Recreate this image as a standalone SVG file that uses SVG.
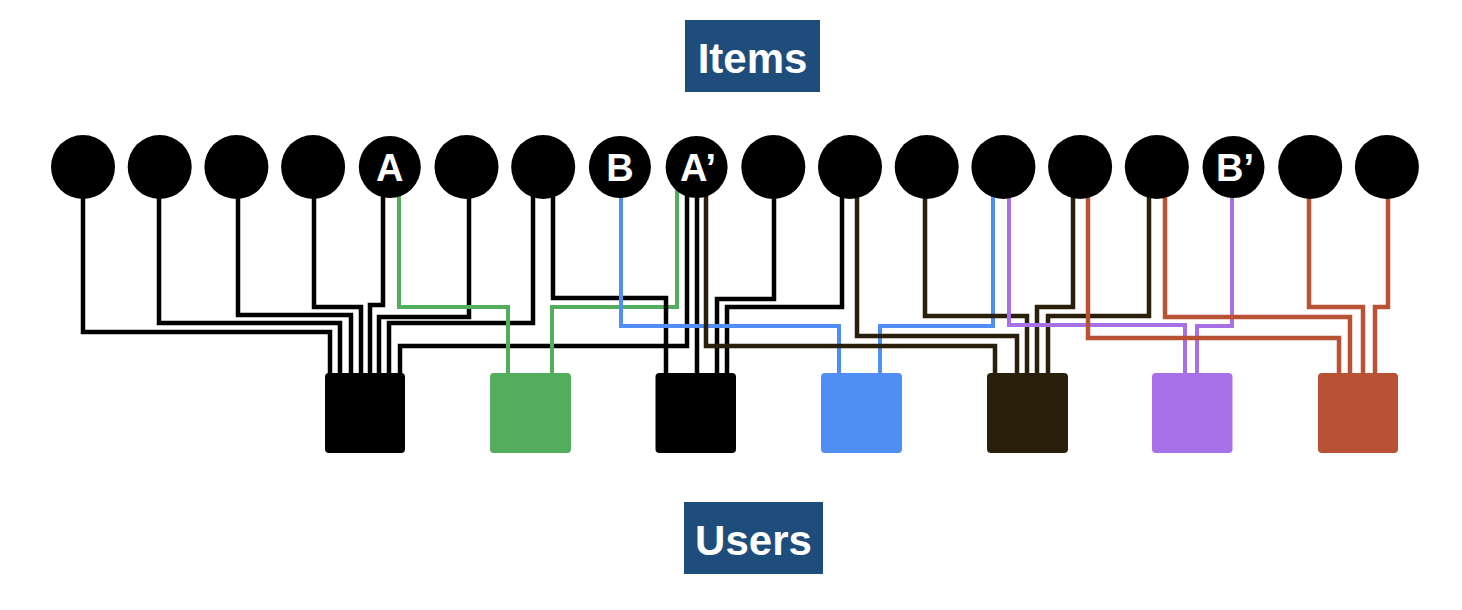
<svg xmlns="http://www.w3.org/2000/svg" width="1462" height="610" viewBox="0 0 1462 610">
<style>
.bg{fill:#ffffff}
.title{fill:#1F4D7B}
.tt{font-family:"Liberation Sans",Arial,sans-serif;font-weight:bold;font-size:42px;fill:#ffffff;text-anchor:middle}
.item{fill:#000000}
.lbl{font-family:"Liberation Sans",Arial,sans-serif;font-weight:bold;font-size:38px;fill:#ffffff;text-anchor:middle}
.w{fill:none;stroke-width:4.5;stroke-linejoin:miter;stroke-linecap:butt}
.k{stroke:#000000}
.g{stroke:#52AE5C;stroke-width:4}
.b{stroke:#4F8FF5;stroke-width:4}
.d{stroke:#2A1F0B}
.p{stroke:#A870E6;stroke-width:4}
.r{stroke:#B95134}
</style>
<rect class="bg" x="0" y="0" width="1462" height="610"/>

<g id="title-items">
<rect class="title" x="685" y="20" width="135" height="72"/>
<text class="tt" x="752.5" y="73">Items</text>
</g>
<g id="title-users">
<rect class="title" x="684" y="502" width="139" height="72"/>
<text class="tt" x="753.5" y="555">Users</text>
</g>

<g id="connectors">
<!-- user 1 (black) -->
<path class="w k" d="M83,190 V332 H330 V380"/>
<path class="w k" d="M159,190 V323 H340 V380"/>
<path class="w k" d="M238,190 V315 H351 V380"/>
<path class="w k" d="M314,190 V307 H361 V380"/>
<path class="w k" d="M383,190 V305 H370 V380"/>
<path class="w k" d="M469,190 V317 H379 V380"/>
<path class="w k" d="M533,190 V323 H389 V380"/>
<path class="w k" d="M687,190 V346 H400 V380"/>
<!-- user 2 (green) -->
<path class="w g" d="M399,190 V307 H508 V380"/>
<path class="w g" d="M677,190 V307 H552 V380"/>
<!-- user 3 (black) -->
<path class="w k" d="M553,190 V298 H666 V380"/>
<path class="w k" d="M697,190 V380"/>
<path class="w k" d="M774,190 V299 H717 V380"/>
<path class="w k" d="M842,190 V307 H727 V380"/>
<!-- user 4 (blue) -->
<path class="w b" d="M621,190 V326 H839 V380"/>
<path class="w b" d="M993,190 V326 H880 V380"/>
<!-- user 5 (dark brown) -->
<path class="w d" d="M706,190 V346 H995 V380"/>
<path class="w d" d="M857,190 V336 H1017 V380"/>
<path class="w d" d="M925,190 V316 H1027 V380"/>
<path class="w d" d="M1073,190 V307 H1037 V380"/>
<path class="w d" d="M1149,190 V316 H1048 V380"/>
<!-- user 6 (purple) -->
<path class="w p" d="M1009,190 V325 H1185 V380"/>
<path class="w p" d="M1232,190 V326 H1197 V380"/>
<!-- user 7 (red) -->
<path class="w r" d="M1088,190 V338 H1339 V380"/>
<path class="w r" d="M1165,190 V317 H1350 V380"/>
<path class="w r" d="M1309,190 V307 H1363 V380"/>
<path class="w r" d="M1388,190 V307 H1375 V380"/>
</g>

<g id="item-1"><circle class="item" cx="83" cy="167" r="32"/></g>
<g id="item-2"><circle class="item" cx="159.7" cy="167" r="32"/></g>
<g id="item-3"><circle class="item" cx="236.4" cy="167" r="32"/></g>
<g id="item-4"><circle class="item" cx="313.1" cy="167" r="32"/></g>
<g id="item-A"><circle class="item" cx="389.8" cy="167" r="31"/><text class="lbl" x="389.8" y="181">A</text></g>
<g id="item-6"><circle class="item" cx="466.5" cy="167" r="32"/></g>
<g id="item-7"><circle class="item" cx="543.2" cy="167" r="32"/></g>
<g id="item-B"><circle class="item" cx="619.9" cy="167" r="31"/><text class="lbl" x="619.9" y="181">B</text></g>
<g id="item-A-prime"><circle class="item" cx="696.6" cy="167" r="31"/><text class="lbl" x="698" y="181">A’</text></g>
<g id="item-10"><circle class="item" cx="773.3" cy="167" r="32"/></g>
<g id="item-11"><circle class="item" cx="850" cy="167" r="32"/></g>
<g id="item-12"><circle class="item" cx="926.7" cy="167" r="32"/></g>
<g id="item-13"><circle class="item" cx="1003.4" cy="167" r="32"/></g>
<g id="item-14"><circle class="item" cx="1080.1" cy="167" r="32"/></g>
<g id="item-15"><circle class="item" cx="1156.8" cy="167" r="32"/></g>
<g id="item-B-prime"><circle class="item" cx="1233.5" cy="167" r="31"/><text class="lbl" x="1235" y="181">B’</text></g>
<g id="item-17"><circle class="item" cx="1310.2" cy="167" r="32"/></g>
<g id="item-18"><circle class="item" cx="1386.9" cy="167" r="32"/></g>

<g id="user-1"><rect x="325" y="373" width="80" height="80" rx="4" fill="#000000"/></g>
<g id="user-2"><rect x="490" y="373" width="81" height="80" rx="4" fill="#52AE5C"/></g>
<g id="user-3"><rect x="655.5" y="373" width="80.5" height="80" rx="4" fill="#000000"/></g>
<g id="user-4"><rect x="821" y="373" width="81" height="80" rx="4" fill="#4F8FF5"/></g>
<g id="user-5"><rect x="987" y="373" width="81" height="80" rx="4" fill="#2A1F0B"/></g>
<g id="user-6"><rect x="1152" y="373" width="80.5" height="80" rx="4" fill="#A870E6"/></g>
<g id="user-7"><rect x="1318" y="373" width="80" height="80" rx="4" fill="#B95134"/></g>
</svg>
